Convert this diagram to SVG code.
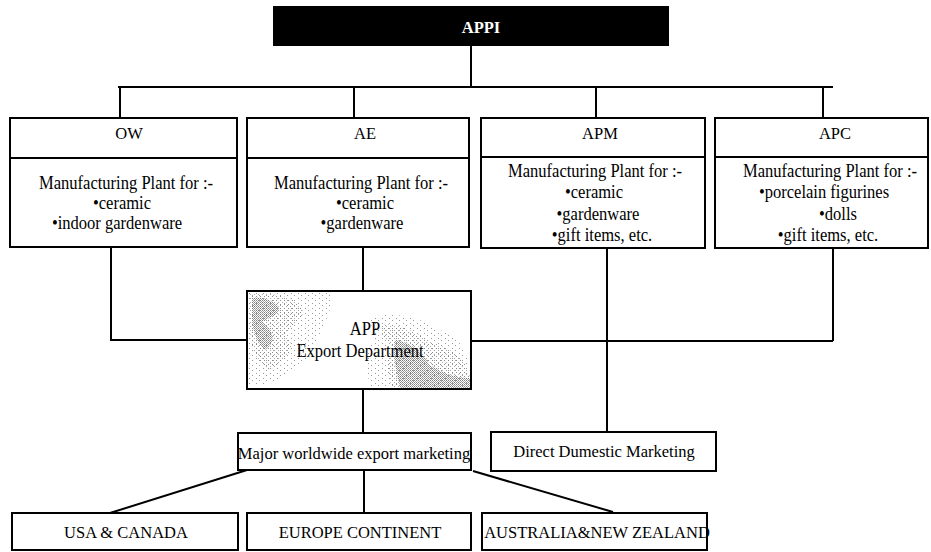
<svg xmlns="http://www.w3.org/2000/svg" width="931" height="552" viewBox="0 0 931 552">
<style>
.box{fill:#fff;stroke:#000;stroke-width:2}
.ln{fill:none;stroke:#000;stroke-width:2}
text{font-family:"Liberation Serif","Times New Roman",serif;font-size:16.5px;fill:#000;text-anchor:middle}
text.c{font-size:17.8px}
.w{fill:#fff;font-weight:bold}
</style>
<defs>
<pattern id="dense" width="2" height="2" patternUnits="userSpaceOnUse">
<rect width="1" height="1" fill="#808080"/>
<rect x="1" y="1" width="1" height="1" fill="#a0a0a0"/>
</pattern>
<pattern id="sparse" width="4" height="4" patternUnits="userSpaceOnUse">
<rect width="1" height="1" fill="#888"/>
<rect x="2" y="2" width="1" height="1" fill="#aaa"/>
</pattern>
<pattern id="thin" width="7" height="5" patternUnits="userSpaceOnUse">
<rect width="1" height="1" fill="#999"/>
<rect x="4" y="3" width="1" height="1" fill="#999"/>
</pattern>
<clipPath id="expclip"><rect x="248" y="292" width="222" height="96"/></clipPath>
</defs>
<rect width="931" height="552" fill="#fff"/>
<g id="connectors">
<path class="ln" d="M471 46V87M118 87H833M120 87V118M354 87V118M596 87V118M823 87V118"/>
<path class="ln" d="M111 247V340H247"/>
<path class="ln" d="M363 248V291"/>
<path class="ln" d="M471 341H833M833 248V341"/>
<path class="ln" d="M607 248V432"/>
<path class="ln" d="M363 389V433"/>
<path class="ln" d="M364 470V513"/>
<path class="ln" d="M247 470L110 513M473 471L613 512"/>
</g>
<g id="APPI">
<rect x="273" y="6" width="396" height="40" fill="#000"/>
<text class="w" x="481" y="33">APPI</text>
</g>
<g id="OW">
<rect class="box" x="10" y="118" width="227" height="129"/>
<path class="ln" d="M10 158H237"/>
<text x="129" y="139">OW</text>
<text class="c" transform="translate(126 189) scale(0.93 1)">Manufacturing Plant for :-</text>
<text class="c" transform="translate(122 209) scale(0.93 1)">•ceramic</text>
<text class="c" transform="translate(117 229) scale(0.93 1)">•indoor gardenware</text>
</g>
<g id="AE">
<rect class="box" x="247" y="118" width="222" height="129"/>
<path class="ln" d="M247 158H469"/>
<text x="365" y="139">AE</text>
<text class="c" transform="translate(361 189) scale(0.93 1)">Manufacturing Plant for :-</text>
<text class="c" transform="translate(365 209) scale(0.93 1)">•ceramic</text>
<text class="c" transform="translate(362 229) scale(0.93 1)">•gardenware</text>
</g>
<g id="APM">
<rect class="box" x="481" y="118" width="224" height="130"/>
<path class="ln" d="M481 157H705"/>
<text x="600" y="139">APM</text>
<text class="c" transform="translate(595 177) scale(0.93 1)">Manufacturing Plant for :-</text>
<text class="c" transform="translate(594 198) scale(0.93 1)">•ceramic</text>
<text class="c" transform="translate(598 220) scale(0.93 1)">•gardenware</text>
<text class="c" transform="translate(602 241) scale(0.93 1)">•gift items, etc.</text>
</g>
<g id="APC">
<rect class="box" x="715" y="118" width="213" height="130"/>
<path class="ln" d="M715 157H928"/>
<text x="835" y="139">APC</text>
<text class="c" transform="translate(830 177) scale(0.93 1)">Manufacturing Plant for :-</text>
<text class="c" transform="translate(824 198) scale(0.93 1)">•porcelain figurines</text>
<text class="c" transform="translate(838 220) scale(0.93 1)">•dolls</text>
<text class="c" transform="translate(828 241) scale(0.93 1)">•gift items, etc.</text>
</g>
<g id="APP">
<rect class="box" x="247" y="291" width="224" height="98"/>
<g clip-path="url(#expclip)">
<path fill="url(#thin)" d="M248 292H330C335 310 320 330 315 345C305 365 290 378 260 385H248Z"/>
<path fill="url(#sparse)" d="M250 294C270 292 292 296 300 305C310 318 290 325 285 335C300 345 285 365 268 370C255 360 250 345 250 330Z"/>
<path fill="url(#dense)" d="M252 298C262 296 272 300 278 306C282 314 268 318 262 322C272 330 278 340 265 350C258 344 252 330 252 318Z"/>
<path fill="url(#thin)" d="M370 318C395 310 420 318 440 330C465 340 470 355 470 388H370C368 370 360 350 375 340Z"/>
<path fill="url(#sparse)" d="M382 325C400 322 415 332 430 342C455 350 470 358 470 388H392C388 372 382 360 396 348C384 340 378 332 382 325Z"/>
<path fill="url(#dense)" d="M395 340C410 342 420 350 430 365C440 372 455 378 470 378V388H400C398 375 392 360 395 340Z"/>
</g>
<text class="c" transform="translate(365 335) scale(0.93 1)">APP</text>
<text class="c" transform="translate(360 357) scale(0.93 1)">Export Department</text>
</g>
<g id="Major">
<rect class="box" x="238" y="433" width="233" height="37"/>
<text x="354" y="459">Major worldwide export marketing</text>
</g>
<g id="Direct">
<rect class="box" x="491" y="432" width="225" height="39"/>
<text x="604" y="457">Direct Dumestic Marketing</text>
</g>
<g id="USA">
<rect class="box" x="12" y="513" width="226" height="37"/>
<text x="126" y="538">USA &amp; CANADA</text>
</g>
<g id="Europe">
<rect class="box" x="247" y="513" width="224" height="37"/>
<text x="360" y="538">EUROPE CONTINENT</text>
</g>
<g id="Australia">
<rect class="box" x="482" y="513" width="225" height="37"/>
<text x="597" y="538">AUSTRALIA&amp;NEW ZEALAND</text>
</g>
</svg>
